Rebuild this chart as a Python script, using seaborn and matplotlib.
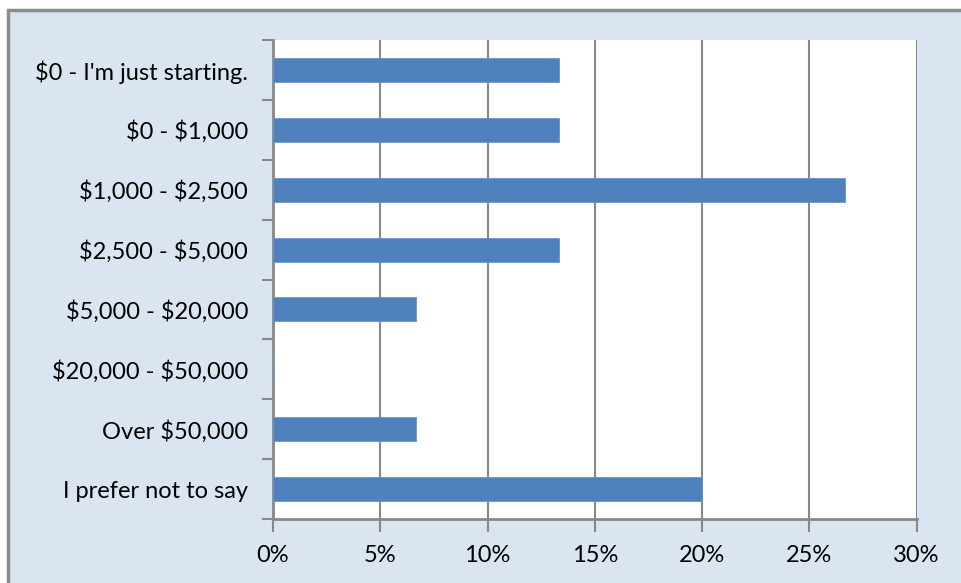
import matplotlib
matplotlib.use("Agg")
import matplotlib.pyplot as plt
import seaborn as sns
import pandas as pd
from matplotlib.patches import Rectangle
from matplotlib.ticker import FuncFormatter

categories = ["$0 - I'm just starting.", "$0 - $1,000", "$1,000 - $2,500", "$2,500 - $5,000",
              "$5,000 - $20,000", "$20,000 - $50,000", "Over $50,000", "I prefer not to say"]
values = [13.33, 13.33, 26.67, 13.33, 6.67, 0.0, 6.67, 20.0]
xticks = [0, 5, 10, 15, 20, 25, 30]

df = pd.DataFrame({"cat": categories, "val": values})

sns.set_theme(style="white")
plt.rcParams['font.family'] = ['Lato', 'DejaVu Sans']
plt.rcParams['text.parse_math'] = False

W, H = 961, 583
fig = plt.figure(figsize=(W / 100, H / 100), dpi=100)
fig.patch.set_facecolor("white")
# chart area background with border
fig.patches.append(Rectangle((8 / W, -0.1), 1.2, 1 - 10 / H + 0.1, transform=fig.transFigure,
                             facecolor="#dbe5f1", edgecolor="#8c8c8c", linewidth=2.5, zorder=-10))

ax = fig.add_axes([273 / W, 1 - 519 / H, (916.5 - 273) / W, (519 - 40) / H])
ax.set_zorder(5)
ax.set_facecolor("white")
sns.barplot(data=df, y="cat", x="val", orient="h", color="#4f81bd", saturation=1,
            width=0.4, ax=ax, edgecolor="#6a95c8", linewidth=0.6, zorder=3)

ax.set_xlim(0, 30)
ax.set_ylim(len(categories) - 0.5, -0.5)
ax.set_xticks(xticks)
ax.xaxis.set_major_formatter(FuncFormatter(lambda v, p: f"{int(v)}%"))
ax.set_xlabel("")
ax.set_ylabel("")
for x in xticks[1:]:
    ax.axvline(x, color="#888888", linewidth=1.5, zorder=1)

ax.set_yticks([i for i in range(len(categories))])
ax.set_yticklabels(categories)
ax.tick_params(axis="y", which="major", length=0, pad=18, labelsize=17, colors="black")
ax.set_yticks([i - 0.5 for i in range(len(categories) + 1)], minor=True)
ax.tick_params(axis="y", which="minor", length=8, width=1.5, color="#888888", direction="out")
ax.tick_params(axis="x", which="major", length=9, width=1.5, color="#888888", direction="out",
               labelsize=17, pad=10, labelcolor="black")
ax.tick_params(axis="x", bottom=True)
ax.tick_params(axis="y", which="minor", left=True)

for s in ["top", "right"]:
    ax.spines[s].set_visible(False)
for s in ["left", "bottom"]:
    ax.spines[s].set_color("#888888")
    ax.spines[s].set_linewidth(2)

fig.savefig("out.png", dpi=100)
